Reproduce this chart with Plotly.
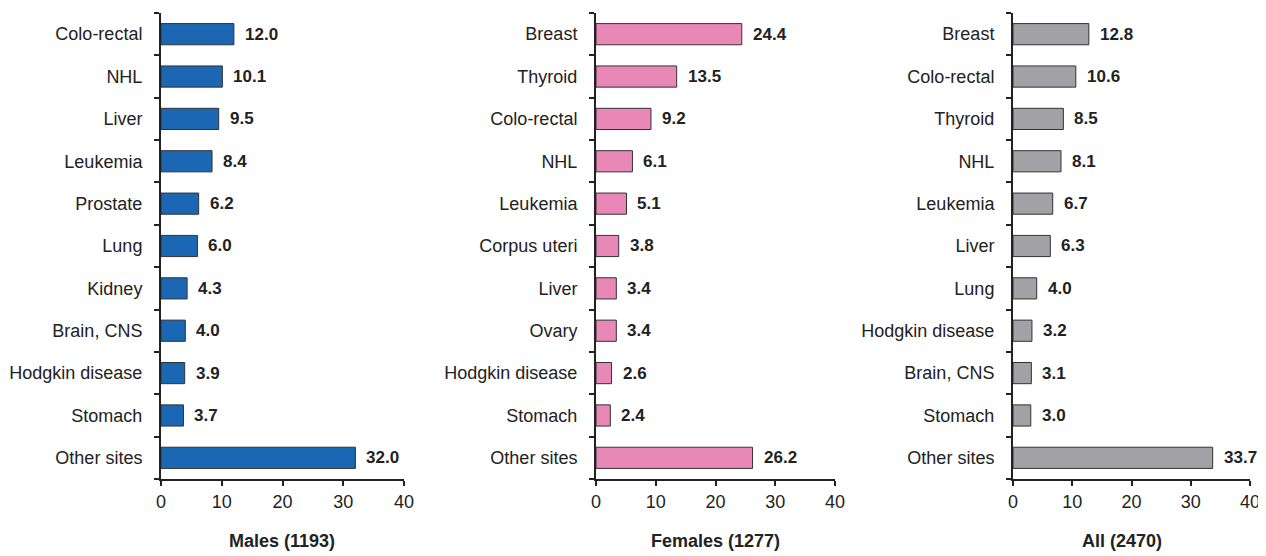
import plotly.graph_objects as go

males_sites = ["Colo-rectal", "NHL", "Liver", "Leukemia", "Prostate", "Lung", "Kidney",
               "Brain, CNS", "Hodgkin disease", "Stomach", "Other sites"]
males_vals = [12.0, 10.1, 9.5, 8.4, 6.2, 6.0, 4.3, 4.0, 3.9, 3.7, 32.0]

females_sites = ["Breast", "Thyroid", "Colo-rectal", "NHL", "Leukemia", "Corpus uteri", "Liver",
                 "Ovary", "Hodgkin disease", "Stomach", "Other sites"]
females_vals = [24.4, 13.5, 9.2, 6.1, 5.1, 3.8, 3.4, 3.4, 2.6, 2.4, 26.2]

all_sites = ["Breast", "Colo-rectal", "Thyroid", "NHL", "Leukemia", "Liver", "Lung",
             "Hodgkin disease", "Brain, CNS", "Stomach", "Other sites"]
all_vals = [12.8, 10.6, 8.5, 8.1, 6.7, 6.3, 4.0, 3.2, 3.1, 3.0, 33.7]

panel_titles = ["Males (1193)", "Females (1277)", "All (2470)"]
x_ticks = [0, 10, 20, 30, 40]

FONT = "Liberation Sans, Arial, sans-serif"
colors = ["#1c67b4", "#e987b6", "#a2a2a6"]
panels = [(males_sites, males_vals), (females_sites, females_vals), (all_sites, all_vals)]

# page body adds an 8px offset; figure size compensates
OFF = 8
W, H = 1266 - OFF, 556 - OFF
def px(x):
    return (x - OFF) / W
def py(y):
    return 1 - (y - OFF) / H

xdomains = [[px(161), px(404)], [px(596), px(835)], [px(1013), px(1250)]]
ydomain = [py(479), py(13)]
title_x = [px(282), px(715), px(1122)]

fig = go.Figure()
annotations = []
for i, ((sites, vals), col) in enumerate(zip(panels, colors)):
    n = i + 1
    xa = "x" if n == 1 else f"x{n}"
    ya = "y" if n == 1 else f"y{n}"
    pos = list(range(len(sites)))
    fig.add_trace(go.Bar(
        x=vals, y=pos, orientation="h", width=0.5,
        marker=dict(color=col, line=dict(color="#333333", width=1)),
        xaxis=xa, yaxis=ya, showlegend=False, hoverinfo="x+y",
    ))
    for v, p in zip(vals, pos):
        annotations.append(dict(
            x=v, y=p, xref=xa, yref=ya, text=f"<b>{v:.1f}</b>", showarrow=False,
            xanchor="left", yanchor="middle", xshift=9,
            font=dict(family=FONT, size=17, color="#222222"),
        ))
    annotations.append(dict(
        x=title_x[i], y=py(541), xref="paper", yref="paper",
        text=f"<b>{panel_titles[i]}</b>", showarrow=False,
        xanchor="center", yanchor="middle",
        font=dict(family=FONT, size=18, color="#222222"),
    ))
    xkey = "xaxis" if n == 1 else f"xaxis{n}"
    ykey = "yaxis" if n == 1 else f"yaxis{n}"
    fig.update_layout(**{
        xkey: dict(
            domain=xdomains[i], range=[0, 40], tickvals=x_ticks, ticks="outside",
            ticklen=5, tickwidth=2, tickcolor="#222222", automargin=False,
            showline=True, linecolor="#222222", linewidth=2, showgrid=False,
            zeroline=False, anchor=ya, fixedrange=True,
            tickfont=dict(family=FONT, size=18, color="#222222"),
        ),
        ykey: dict(
            domain=ydomain, range=[10.5, -0.5], tickmode="array", tickvals=pos,
            ticktext=sites, ticks="", ticklabelstandoff=13, automargin=False,
            showline=True, linecolor="#222222", linewidth=2, showgrid=False,
            zeroline=False, anchor=xa, fixedrange=True,
            minor=dict(tickmode="array", tickvals=[p - 0.5 for p in pos] + [10.5],
                       ticks="outside", ticklen=5, tickwidth=2, tickcolor="#222222",
                       showgrid=False),
            tickfont=dict(family=FONT, size=18, color="#222222"),
        ),
    })

fig.update_layout(
    width=W, height=H,
    margin=dict(l=0, r=0, t=0, b=0),
    paper_bgcolor="white", plot_bgcolor="white",
    annotations=annotations, bargap=0.5,
)
fig.write_html("out.html")
